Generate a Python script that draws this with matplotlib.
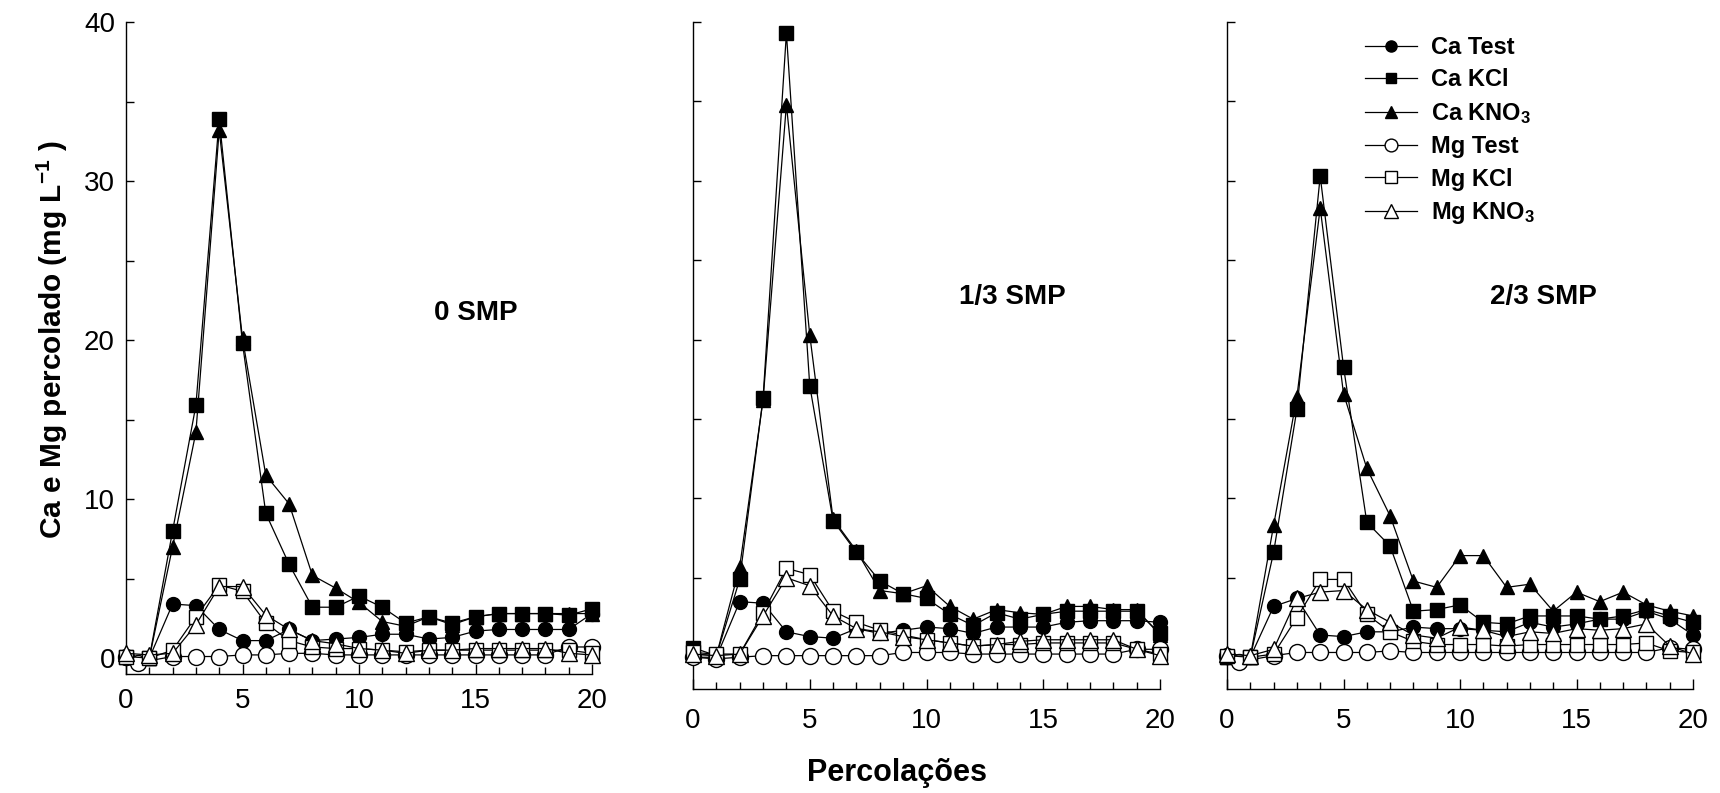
import matplotlib
matplotlib.use("Agg")
import matplotlib.pyplot as plt
from matplotlib.ticker import MultipleLocator

plt.rcParams.update({
    'font.family': ['Liberation Sans', 'DejaVu Sans'],
    'mathtext.fontset': 'custom',
    'mathtext.rm': 'Liberation Sans:bold',
    'mathtext.bf': 'Liberation Sans:bold',
    'mathtext.it': 'Liberation Sans:bold',
    'mathtext.default': 'bf',
})

# percolation number
perc = list(range(21))
perc_mg_test = [0, 0.5] + list(range(2, 21))   # panels 0 and 2/3 SMP

# ---- 0 SMP ----
ca_test_0 = [0.0, 0.0, 3.4, 3.3, 1.8, 1.1, 1.1, 1.8, 1.1, 1.2, 1.3, 1.5, 1.5, 1.2, 1.3, 1.7, 1.8, 1.8, 1.8, 1.8, 2.8]
ca_kcl_0 = [0.1, 0.0, 8.0, 15.9, 33.9, 19.8, 9.1, 5.9, 3.2, 3.2, 3.9, 3.2, 2.2, 2.6, 2.2, 2.6, 2.8, 2.8, 2.8, 2.7, 3.1]
ca_kno3_0 = [0.2, 0.0, 7.0, 14.2, 33.2, 20.1, 11.5, 9.7, 5.2, 4.4, 3.5, 2.3, 2.0, 2.6, 2.1, 2.6, 2.8, 2.8, 2.8, 2.8, 2.8]
mg_test_0 = [0.1, -0.3, 0.1, 0.1, 0.1, 0.2, 0.2, 0.3, 0.3, 0.2, 0.2, 0.2, 0.2, 0.2, 0.2, 0.2, 0.2, 0.2, 0.2, 0.7, 0.7]
mg_kcl_0 = [0.1, 0.0, 0.5, 2.6, 4.6, 4.2, 2.2, 1.1, 0.7, 0.6, 0.6, 0.5, 0.4, 0.5, 0.5, 0.5, 0.5, 0.5, 0.5, 0.5, 0.3]
mg_kno3_0 = [0.3, 0.2, 0.3, 2.1, 4.5, 4.5, 2.7, 1.8, 1.1, 0.9, 0.6, 0.5, 0.3, 0.5, 0.5, 0.6, 0.6, 0.6, 0.6, 0.3, 0.2]

# ---- 1/3 SMP ----
ca_test_13 = [0.0, 0.0, 3.5, 3.4, 1.6, 1.3, 1.2, 1.8, 1.5, 1.7, 1.9, 1.8, 1.5, 1.9, 1.9, 1.9, 2.2, 2.3, 2.3, 2.3, 2.2]
ca_kcl_13 = [0.6, 0.1, 4.9, 16.3, 39.3, 17.1, 8.6, 6.6, 4.8, 4.0, 3.7, 2.7, 2.0, 2.8, 2.4, 2.7, 2.9, 2.9, 2.9, 2.9, 1.5]
ca_kno3_13 = [0.2, 0.1, 5.7, 16.2, 34.8, 20.3, 8.7, 6.7, 4.2, 4.0, 4.5, 3.2, 2.4, 3.0, 2.8, 2.7, 3.2, 3.2, 3.0, 3.0, 1.4]
mg_test_13 = [0.0, -0.1, 0.0, 0.1, 0.1, 0.1, 0.1, 0.1, 0.1, 0.3, 0.3, 0.3, 0.2, 0.2, 0.2, 0.2, 0.2, 0.2, 0.2, 0.5, 0.5]
mg_kcl_13 = [0.3, 0.2, 0.2, 2.8, 5.6, 5.2, 2.9, 2.2, 1.7, 1.4, 1.1, 0.9, 0.7, 0.8, 0.8, 0.9, 0.9, 0.9, 0.9, 0.5, 0.2]
mg_kno3_13 = [0.2, 0.1, 0.2, 2.6, 5.0, 4.5, 2.6, 1.8, 1.6, 1.3, 1.1, 0.9, 0.7, 0.8, 1.0, 1.1, 1.1, 1.1, 1.1, 0.5, 0.1]

# ---- 2/3 SMP ----
ca_test_23 = [0.0, 0.0, 3.2, 3.7, 1.4, 1.3, 1.6, 1.6, 1.9, 1.8, 1.8, 1.7, 1.6, 2.2, 1.9, 2.1, 2.4, 2.4, 2.9, 2.4, 1.4]
ca_kcl_23 = [0.0, 0.0, 6.6, 15.6, 30.3, 18.3, 8.5, 7.0, 2.9, 3.0, 3.3, 2.2, 2.1, 2.6, 2.6, 2.6, 2.4, 2.6, 3.0, 2.6, 2.2]
ca_kno3_23 = [0.0, 0.0, 8.3, 16.4, 28.3, 16.6, 11.9, 8.9, 4.8, 4.4, 6.4, 6.4, 4.4, 4.6, 2.9, 4.1, 3.5, 4.1, 3.3, 2.9, 2.6]
mg_test_23 = [0.1, -0.3, 0.1, 0.3, 0.3, 0.3, 0.3, 0.4, 0.3, 0.3, 0.3, 0.3, 0.3, 0.3, 0.3, 0.3, 0.3, 0.3, 0.3, 0.6, 0.5]
mg_kcl_23 = [0.1, 0.0, 0.2, 2.5, 4.9, 4.9, 2.7, 1.6, 1.0, 0.8, 0.8, 0.8, 0.7, 0.8, 0.8, 0.8, 0.8, 0.8, 0.9, 0.4, 0.3]
mg_kno3_23 = [0.2, 0.1, 0.5, 3.7, 4.1, 4.2, 3.0, 2.2, 1.4, 1.2, 1.9, 1.7, 1.3, 1.6, 1.5, 1.8, 1.7, 1.8, 2.1, 0.7, 0.2]

panel_titles = ["0 SMP", "1/3 SMP", "2/3 SMP"]
series_labels = ["Ca Test", "Ca KCl", "Ca KNO$_3$", "Mg Test", "Mg KCl", "Mg KNO$_3$"]

panels = [
    [ca_test_0, ca_kcl_0, ca_kno3_0, mg_test_0, mg_kcl_0, mg_kno3_0],
    [ca_test_13, ca_kcl_13, ca_kno3_13, mg_test_13, mg_kcl_13, mg_kno3_13],
    [ca_test_23, ca_kcl_23, ca_kno3_23, mg_test_23, mg_kcl_23, mg_kno3_23],
]
mg_test_x = [perc_mg_test, perc, perc_mg_test]

# marker style per series: (marker, face, size)
styles = [
    ('o', 'black', 10.0),
    ('s', 'black', 9.5),
    ('^', 'black', 10.5),
    ('o', 'white', 11.5),
    ('s', 'white', 10.5),
    ('^', 'white', 12.0),
]

W, H = 1720, 793
fig = plt.figure(figsize=(W / 100, H / 100), dpi=100)

# axes boxes in pixels: left, right, top, bottom
boxes = [(126, 592, 22, 674), (693, 1160, 22, 689), (1227, 1693, 22, 689)]
ybottoms = [-1.0, -2.0, -2.0]
title_pos = [(476, 313), (1012, 297), (1543, 297)]

axes = []
for i, (l, r, t, b) in enumerate(boxes):
    ax = fig.add_axes([l / W, 1 - b / H, (r - l) / W, (b - t) / H])
    axes.append(ax)
    data = panels[i]
    for j, vals in enumerate(data):
        xs = mg_test_x[i] if j == 3 else perc
        mk, fc, ms = styles[j]
        ax.plot(xs, vals, color='black', lw=0.9, marker=mk, markersize=ms,
                markerfacecolor=fc, markeredgecolor='black', markeredgewidth=1.0,
                clip_on=False, zorder=3 + j, label=series_labels[j])
    ax.set_xlim(0, 20)
    ax.set_ylim(ybottoms[i], 40)
    for s in ('top', 'right'):
        ax.spines[s].set_visible(False)
    for s in ('left', 'bottom'):
        ax.spines[s].set_linewidth(1.0)
    ax.xaxis.set_major_locator(MultipleLocator(5))
    ax.xaxis.set_minor_locator(MultipleLocator(1))
    ax.yaxis.set_major_locator(MultipleLocator(10))
    ax.yaxis.set_minor_locator(MultipleLocator(5))
    ax.tick_params(axis='x', which='major', direction='in', length=7.5, width=1.0,
                   labelsize=20, pad=10 if i == 0 else 14)
    ax.tick_params(axis='x', which='minor', direction='in', length=5, width=1.0)
    ax.tick_params(axis='y', which='both', direction='in', length=5.5, width=1.0,
                   labelsize=20, pad=8)
    if i > 0:
        ax.tick_params(axis='y', which='both', labelleft=False)
    tx, ty = title_pos[i]
    fig.text(tx / W, 1 - ty / H, panel_titles[i], fontsize=20, fontweight='bold',
             ha='center', va='center')

handles, labels = axes[2].get_legend_handles_labels()
leg = fig.legend(handles, labels, loc='upper left',
                 bbox_to_anchor=(1365 / W, 1 - 36 / H), frameon=False,
                 prop={'weight': 'bold', 'size': 17},
                 handlelength=2.2, handletextpad=0.6, labelspacing=0.40,
                 borderpad=0, borderaxespad=0, markerscale=0.8)

fig.text(52 / W, 1 - 340 / H, "Ca e Mg percolado (mg L$^{-1}$ )", rotation=90,
         fontsize=21.5, fontweight='bold', ha='center', va='center')
fig.text(897 / W, 1 - 773 / H, "Percolações", fontsize=22, fontweight='bold',
         ha='center', va='center')

fig.savefig("out.png", dpi=100)
